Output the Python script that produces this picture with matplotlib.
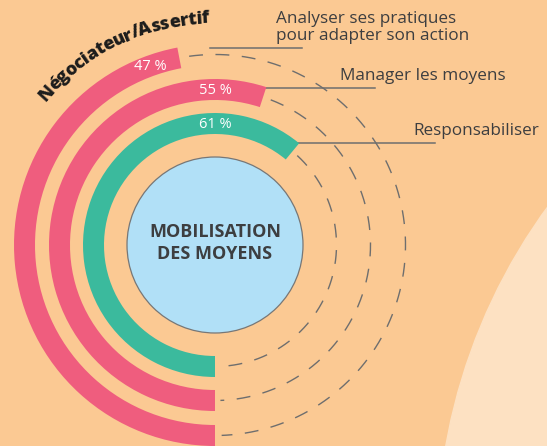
import numpy as np
import matplotlib
matplotlib.use("Agg")
import matplotlib.pyplot as plt
from matplotlib.patches import Wedge, Circle
from matplotlib.font_manager import FontProperties

# data
labels = ["Analyser ses pratiques\npour adapter son action", "Manager les moyens", "Responsabiliser"]
shares = [47, 55, 61]
ring_colors = ["#EF5D7E", "#EF5D7E", "#3BBA9D"]
arc_title = "Négociateur/Assertif"
center_text = "MOBILISATION\nDES MOYENS"

BG = "#FBC993"
LIGHT = "#FDE1C2"
GREY = "#6e6e6e"
TXT = "#3d3e40"
FONT = "Open Sans"

W, H = 547, 446
fig = plt.figure(figsize=(W / 100, H / 100), dpi=100, facecolor=BG)
ax = fig.add_axes([0, 0, 1, 1])
ax.set_xlim(0, W)
ax.set_ylim(0, H)
ax.set_aspect("equal")
ax.axis("off")

cx, cy = 215, H - 245
outer_r = [201, 166, 132]
ring_w = 21

# light disc in the bottom-right corner
ax.add_patch(Circle((1012, H - 546), 575, color=LIGHT, zorder=0))

# leader line layout (y in picture pixels, x start / end)
line_y = [48, 88, 143]
line_x0 = [210, 252, 298]
line_x1 = [302, 375, 435]
label_x = [276, 340, 413]

for i, p in enumerate(shares):
    r_out = outer_r[i]
    r_mid = r_out - ring_w / 2
    end = 270 - 360 * p / 100
    ax.add_patch(Wedge((cx, cy), r_out, end, 270, width=ring_w,
                       facecolor=ring_colors[i], edgecolor="none", zorder=3))
    # dashed remainder
    t = np.radians(np.linspace(end - 3, -90 + 2, 400))
    ax.plot(cx + r_mid * np.cos(t), cy + r_mid * np.sin(t), color=GREY, lw=1.0,
            linestyle=(0, (10, 9)), zorder=2)
    # percentage label
    a = np.radians(max(end + 9, 90))
    ax.text(cx + r_mid * np.cos(a), cy + r_mid * np.sin(a) - 1, f"{p} %",
            color="white", fontsize=10.5, family=FONT, ha="center", va="center", zorder=4)
    # leader line and label
    ly = H - line_y[i]
    ax.plot([line_x0[i], line_x1[i]], [ly, ly], color=GREY, lw=1.1, zorder=1)
    ax.text(label_x[i], ly + 4, labels[i], color=TXT, fontsize=12.3, family=FONT,
            ha="left", va="bottom", linespacing=1.05, zorder=4)

# centre disc
ax.add_patch(Circle((cx, cy), 88, facecolor="#B1E0F7", edgecolor="#777777", lw=0.9, zorder=3))
ax.text(cx, cy + 2, center_text, color=TXT, fontsize=13, family=FONT, weight="bold",
        ha="center", va="center", linespacing=1.25, zorder=4)

# curved title along the outer ring
fp = FontProperties(family=FONT, weight="heavy", size=13)
renderer = fig.canvas.get_renderer()
def width(s):
    if not s:
        return 0.0
    return 0.95 * renderer.get_text_width_height_descent(s, fp, ismath=False)[0]
R = 222
stop = 91.5
start = stop + np.degrees(width(arc_title) / R)
for k, ch in enumerate(arc_title):
    s = (width(arc_title[:k]) + width(arc_title[:k + 1])) / 2
    a = start - np.degrees(s / R)
    ar = np.radians(a)
    ax.text(cx + R * np.cos(ar), cy + R * np.sin(ar), ch, fontproperties=fp,
            color="#1c1c1c", rotation=a - 90, rotation_mode="anchor",
            ha="center", va="baseline", zorder=4)

fig.savefig("out.png", dpi=100, facecolor=BG)
